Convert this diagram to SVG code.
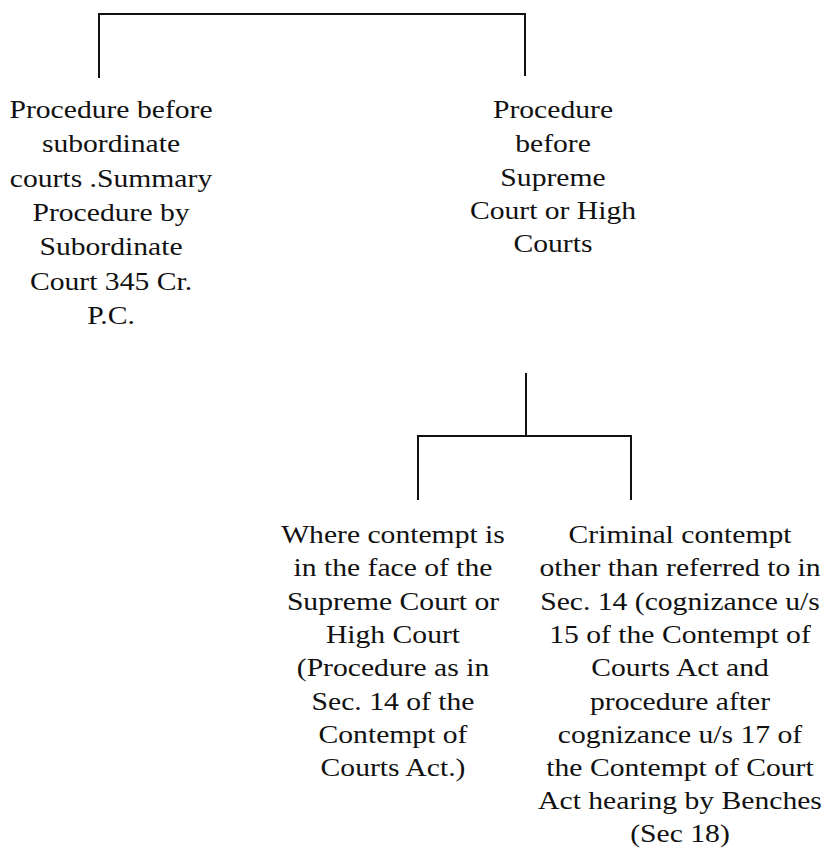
<svg xmlns="http://www.w3.org/2000/svg" width="827" height="850" viewBox="0 0 827 850">
<style>
text{font-family:"Liberation Serif","Times New Roman",serif;font-size:26px;fill:#111;text-anchor:middle}
.c{fill:none;stroke:#111;stroke-width:2}
</style>
<rect width="827" height="850" fill="#fff"/>
<g id="connectors">
<path class="c" d="M99,78 V14 H525 V76"/>
<path class="c" d="M526,373 V436"/>
<path class="c" d="M418,500 V436 H631 V500"/>
</g>
<g id="node-subordinate" transform="translate(111 0) scale(1.14 1)">
<text x="0" y="118">Procedure before</text>
<text x="0" y="152">subordinate</text>
<text x="0" y="187">courts .Summary</text>
<text x="0" y="221">Procedure by</text>
<text x="0" y="255">Subordinate</text>
<text x="0" y="290">Court 345 Cr.</text>
<text x="0" y="324">P.C.</text>
</g>
<g id="node-supreme" transform="translate(553 0) scale(1.14 1)">
<text x="0" y="118">Procedure</text>
<text x="0" y="152">before</text>
<text x="0" y="186">Supreme</text>
<text x="0" y="219">Court or High</text>
<text x="0" y="252">Courts</text>
</g>
<g id="node-face" transform="translate(393 0) scale(1.14 1)">
<text x="0" y="543">Where contempt is</text>
<text x="0" y="576">in the face of the</text>
<text x="0" y="610">Supreme Court or</text>
<text x="0" y="643">High Court</text>
<text x="0" y="676">(Procedure as in</text>
<text x="0" y="710">Sec. 14 of the</text>
<text x="0" y="743">Contempt of</text>
<text x="0" y="776">Courts Act.)</text>
</g>
<g id="node-criminal" transform="translate(680 0) scale(1.14 1)">
<text x="0" y="543">Criminal contempt</text>
<text x="0" y="576">other than referred to in</text>
<text x="0" y="610">Sec. 14 (cognizance u/s</text>
<text x="0" y="643">15 of the Contempt of</text>
<text x="0" y="676">Courts Act and</text>
<text x="0" y="710">procedure after</text>
<text x="0" y="743">cognizance u/s 17 of</text>
<text x="0" y="776">the Contempt of Court</text>
<text x="0" y="809">Act hearing by Benches</text>
<text x="0" y="842">(Sec 18)</text>
</g>
</svg>
